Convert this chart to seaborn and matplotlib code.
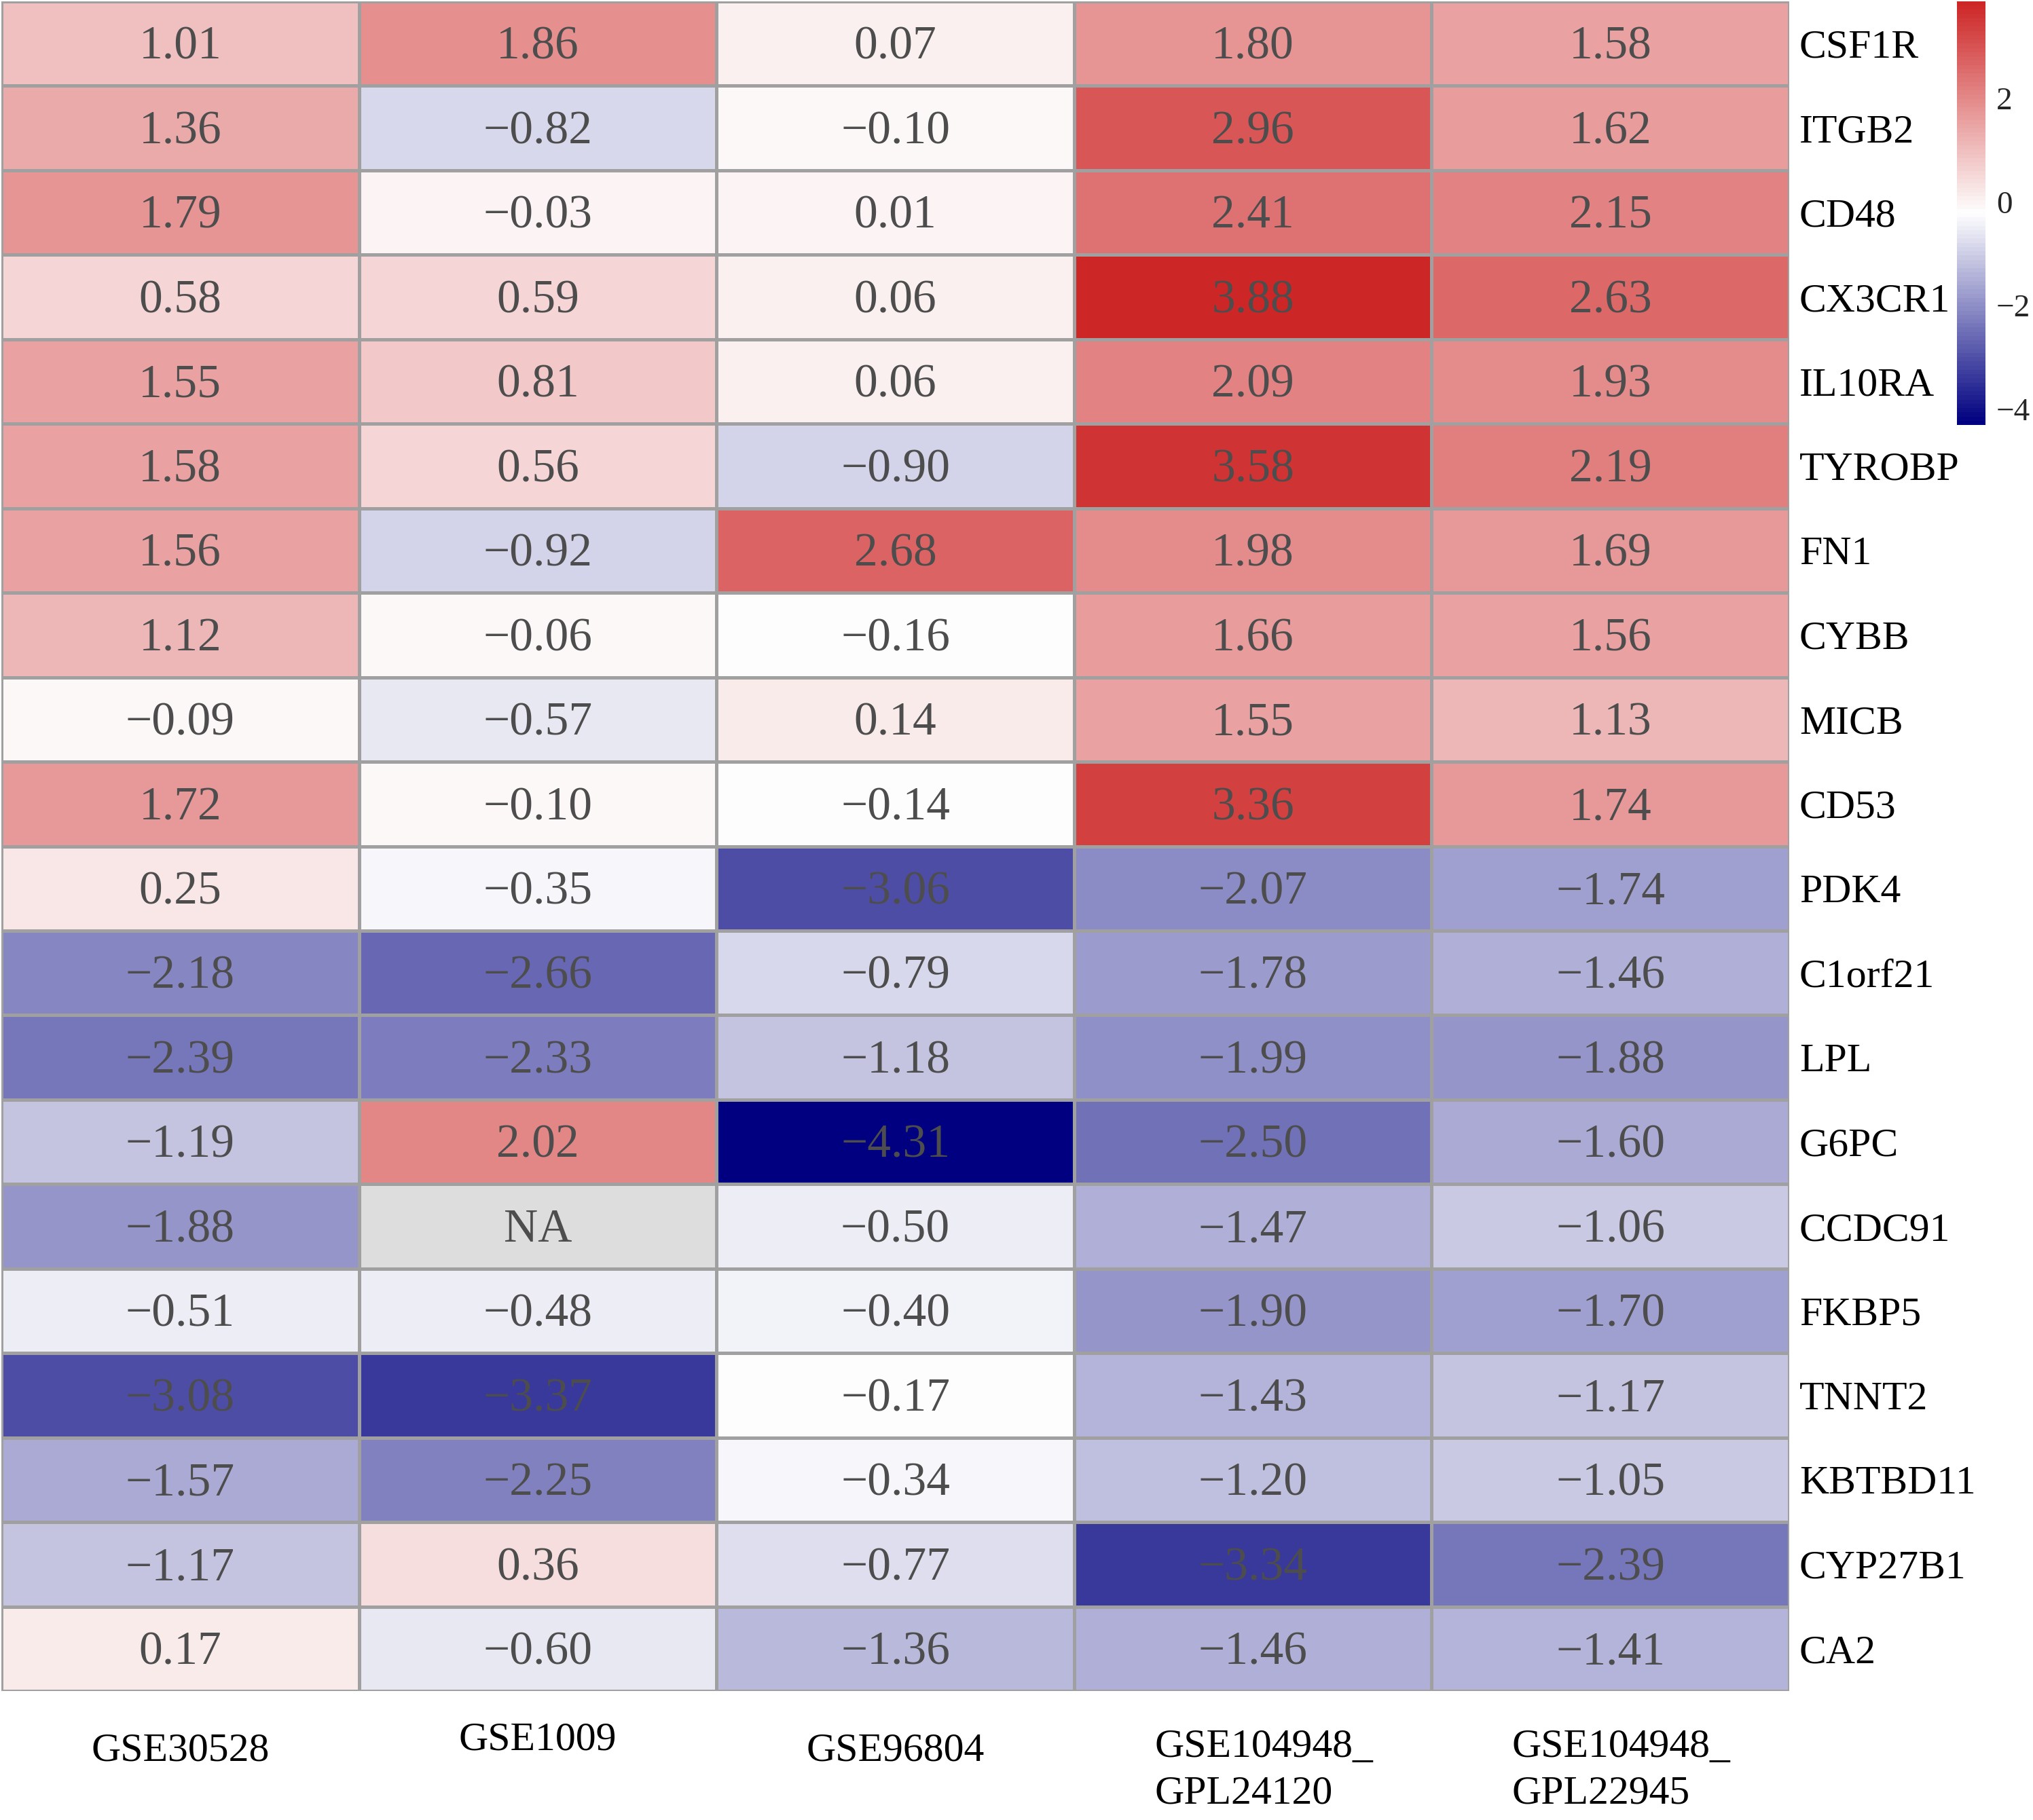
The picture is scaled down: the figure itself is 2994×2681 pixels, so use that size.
import numpy as np
import pandas as pd
import matplotlib
matplotlib.use("Agg")
import matplotlib.pyplot as plt
import matplotlib.transforms as mtransforms
from matplotlib.colors import LinearSegmentedColormap, ListedColormap
import seaborn as sns

sns.set_style("white")
plt.rcParams['font.family'] = ['Liberation Serif', 'DejaVu Serif']

# Data
genes = ["CSF1R", "ITGB2", "CD48", "CX3CR1", "IL10RA", "TYROBP", "FN1", "CYBB",
         "MICB", "CD53", "PDK4", "C1orf21", "LPL", "G6PC", "CCDC91", "FKBP5",
         "TNNT2", "KBTBD11", "CYP27B1", "CA2"]
datasets = ["GSE30528", "GSE1009", "GSE96804", "GSE104948_\nGPL24120", "GSE104948_\nGPL22945"]

gse30528 = [1.01, 1.36, 1.79, 0.58, 1.55, 1.58, 1.56, 1.12, -0.09, 1.72,
            0.25, -2.18, -2.39, -1.19, -1.88, -0.51, -3.08, -1.57, -1.17, 0.17]
gse1009 = [1.86, -0.82, -0.03, 0.59, 0.81, 0.56, -0.92, -0.06, -0.57, -0.10,
           -0.35, -2.66, -2.33, 2.02, np.nan, -0.48, -3.37, -2.25, 0.36, -0.60]
gse96804 = [0.07, -0.10, 0.01, 0.06, 0.06, -0.90, 2.68, -0.16, 0.14, -0.14,
            -3.06, -0.79, -1.18, -4.31, -0.50, -0.40, -0.17, -0.34, -0.77, -1.36]
gpl24120 = [1.80, 2.96, 2.41, 3.88, 2.09, 3.58, 1.98, 1.66, 1.55, 3.36,
            -2.07, -1.78, -1.99, -2.50, -1.47, -1.90, -1.43, -1.20, -3.34, -1.46]
gpl22945 = [1.58, 1.62, 2.15, 2.63, 1.93, 2.19, 1.69, 1.56, 1.13, 1.74,
            -1.74, -1.46, -1.88, -1.60, -1.06, -1.70, -1.17, -1.05, -2.39, -1.41]

df = pd.DataFrame({datasets[0]: gse30528, datasets[1]: gse1009, datasets[2]: gse96804,
                   datasets[3]: gpl24120, datasets[4]: gpl22945}, index=genes)

# cell labels with a true minus sign
annot = df.apply(lambda col: col.map(lambda v: "NA" if pd.isna(v) else f"{v:.2f}".replace("-", "\u2212")))

cmap = LinearSegmentedColormap.from_list("pheat", ["#000080", "#FFFFFF", "#CD2626"], N=100)
vmin, vmax = np.nanmin(df.values), np.nanmax(df.values)

W, H = 2994, 2681
dpi = 200
fig = plt.figure(figsize=(W / dpi, H / dpi), dpi=dpi)
ax = fig.add_axes([2 / W, 1 - 2491 / H, 2633 / W, 2489 / H])
cax = fig.add_axes([2882 / W, 1 - 626 / H, 42 / W, 624 / H])

grid_kw = dict(linewidths=1.1, linecolor="#A0A0A0")
text_kw = dict(size=25, color="#4D4D4D")

sns.heatmap(df, ax=ax, cmap=cmap, vmin=vmin, vmax=vmax, annot=annot.values, fmt="",
            annot_kws=text_kw, cbar_ax=cax, **grid_kw)

# NA cells in grey
na = df.isna()
sns.heatmap(na.astype(float), ax=ax, mask=~na, cmap=ListedColormap(["#DDDDDD"]),
            cbar=False, annot=annot.values, fmt="", annot_kws=text_kw, **grid_kw)

# nudge cell numbers down a little
for t in ax.texts:
    t.set_transform(t.get_transform() + mtransforms.ScaledTranslation(0, -0.03, fig.dpi_scale_trans))

# row labels on the right
ax.yaxis.tick_right()
ax.set_yticks(np.arange(len(genes)) + 0.5)
ax.set_yticklabels(genes, rotation=0, fontsize=21.5, color="black")
for lbl in ax.get_yticklabels():
    lbl.set_ha("left")
    lbl.set_transform(lbl.get_transform() + mtransforms.ScaledTranslation(0, 0.02, fig.dpi_scale_trans))
ax.tick_params(axis="y", length=0, pad=5.4)

# column labels at the bottom
ax.set_xticks(np.arange(len(datasets)) + 0.5)
ax.set_xticklabels(datasets, rotation=0, fontsize=21.5, color="black", linespacing=1.35)
ax.tick_params(axis="x", length=0, pad=32)
shifts = [0, 0.08, 0, -0.14, -0.14]
for lbl, dy in zip(ax.get_xticklabels(), shifts):
    lbl.set_va("center")
    lbl.set_multialignment("left")
    dx = 0.08 if dy < 0 else 0
    lbl.set_transform(lbl.get_transform() + mtransforms.ScaledTranslation(dx, dy, fig.dpi_scale_trans))
ax.set_xlabel("")
ax.set_ylabel("")

# colour legend
cbar = ax.collections[0].colorbar
cbar.outline.set_visible(False)
cbar.set_ticks([-4, -2, 0, 2])
cax.tick_params(length=0, labelsize=17, pad=5.8)

fig.savefig("out.png", dpi=dpi, facecolor="white")
